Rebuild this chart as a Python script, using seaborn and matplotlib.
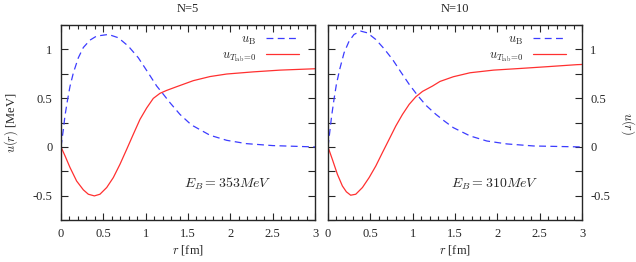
import numpy as np
import seaborn as sns
import matplotlib.pyplot as plt
from matplotlib.ticker import MultipleLocator, FuncFormatter

# ----------------------------- donnees lues -----------------------------
# N=5
r_b5 = [0, 0.028, 0.047, 0.075, 0.106, 0.146, 0.205, 0.264, 0.343, 0.42, 0.56, 0.677, 0.795, 0.913,
        1.03, 1.13, 1.209, 1.287, 1.405, 1.52, 1.563, 1.76, 1.957, 2.19, 2.5, 3.0]
u_b5 = [0, 0.18, 0.32, 0.47, 0.62, 0.76, 0.915, 1.02, 1.096, 1.137, 1.154, 1.12, 1.034, 0.915,
        0.76, 0.625, 0.54, 0.454, 0.334, 0.242, 0.215, 0.12, 0.068, 0.034, 0.014, 0.0]
r_t5 = [0, 0.047, 0.106, 0.185, 0.264, 0.323, 0.394, 0.46, 0.54, 0.618, 0.697, 0.776, 0.854, 0.933,
        1.012, 1.09, 1.169, 1.248, 1.366, 1.563, 1.76, 1.957, 2.27, 2.587, 3.0]
u_t5 = [0, -0.09, -0.21, -0.35, -0.44, -0.485, -0.502, -0.485, -0.416, -0.314, -0.177, -0.024, 0.13, 0.283,
        0.40, 0.498, 0.55, 0.58, 0.618, 0.68, 0.722, 0.748, 0.77, 0.788, 0.802]

# N=10
r_b10 = [0, 0.02, 0.043, 0.071, 0.099, 0.138, 0.19, 0.249, 0.308, 0.387, 0.466, 0.565, 0.663, 0.762,
         0.861, 0.959, 1.058, 1.157, 1.275, 1.374, 1.48, 1.678, 1.876, 2.113, 2.43, 3.0]
u_b10 = [0, 0.147, 0.317, 0.488, 0.64, 0.795, 0.966, 1.085, 1.154, 1.188, 1.17, 1.102, 1.007, 0.898,
         0.768, 0.642, 0.529, 0.427, 0.334, 0.266, 0.198, 0.113, 0.061, 0.031, 0.01, 0.0]
r_t10 = [0, 0.051, 0.111, 0.17, 0.217, 0.268, 0.328, 0.407, 0.486, 0.565, 0.643, 0.722, 0.801, 0.88,
         0.959, 1.038, 1.117, 1.235, 1.323, 1.48, 1.678, 1.955, 2.27, 2.586, 2.94, 3.0]
u_t10 = [0, -0.126, -0.28, -0.4, -0.46, -0.495, -0.485, -0.416, -0.314, -0.195, -0.058, 0.078, 0.215, 0.334,
         0.437, 0.515, 0.57, 0.625, 0.672, 0.72, 0.761, 0.788, 0.805, 0.823, 0.844, 0.846]

titres = ["N=5", "N=10"]
energies = ["$E_B = 353MeV$", "$E_B = 310MeV$"]

# ----------------------------- affichage -----------------------------
sns.set_style("ticks")
plt.rcParams['font.family'] = ['Liberation Serif', 'DejaVu Serif']
plt.rcParams['mathtext.fontset'] = 'cm'
plt.rcParams['axes.unicode_minus'] = False
plt.rcParams['font.size'] = 9

fig = plt.figure(figsize=(6.36, 2.62), dpi=100)
ax0 = fig.add_axes([0.0959, 0.160, 0.3994, 0.7443])
ax1 = fig.add_axes([0.5157, 0.160, 0.3994, 0.7443])

bleu = '#3c3cff'
rouge = '#ff3030'

donnees = [(r_b5, u_b5, r_t5, u_t5), (r_b10, u_b10, r_t10, u_t10)]

def demi(v, pos):  # etiquette seulement tous les 0.5
    if abs(v * 2 - round(v * 2)) < 1e-6:
        return '%g' % v
    return ''

for i, ax in enumerate([ax0, ax1]):
    rb, ub, rt, ut = donnees[i]
    sns.lineplot(x=rb, y=ub, ax=ax, color=bleu, linewidth=0.9, linestyle=(0, (5.5, 3.5)),
                 label=r'$u_\mathrm{B}$')
    sns.lineplot(x=rt, y=ut, ax=ax, color=rouge, linewidth=0.9,
                 label=r'$u_{T_\mathrm{lab}\!=\!0}$')
    ax.set_xlim(0, 3)
    ax.set_ylim(-0.75, 1.25)
    ax.xaxis.set_major_locator(MultipleLocator(0.5))
    ax.xaxis.set_minor_locator(MultipleLocator(0.1))
    ax.yaxis.set_major_locator(MultipleLocator(0.25))
    ax.yaxis.set_major_formatter(FuncFormatter(demi))
    ax.xaxis.set_major_formatter(FuncFormatter(lambda v, p: '%g' % v))
    ax.tick_params(which='both', direction='in', top=True, right=True, labelsize=9, width=0.8)
    ax.tick_params(which='major', length=5, pad=6)
    ax.tick_params(which='minor', length=3)
    for s in ax.spines.values():
        s.set_linewidth(1.0)
    ax.set_xlabel('$r$ [fm]', fontsize=9, labelpad=2)
    ax.set_title(titres[i], fontsize=9, pad=9.5)
    ax.text(1.97, -0.38, energies[i], ha='center', va='center', fontsize=10)
    ax.legend(loc='upper right', bbox_to_anchor=(0.97, 1.0), frameon=False, markerfirst=False,
              fontsize=9, handlelength=2.6, handletextpad=0.8, labelspacing=0.2, borderaxespad=0.3)

ax0.set_ylabel('$u(r)$ [MeV]', fontsize=9, labelpad=9)
ax1.tick_params(axis='y', labelleft=False, labelright=True)
ax1.set_ylabel('')
fig.text(628 / 636, 0.53, '$u(r)$', rotation=-90, ha='center', va='center', fontsize=9)

plt.savefig('out.png', dpi=100)
